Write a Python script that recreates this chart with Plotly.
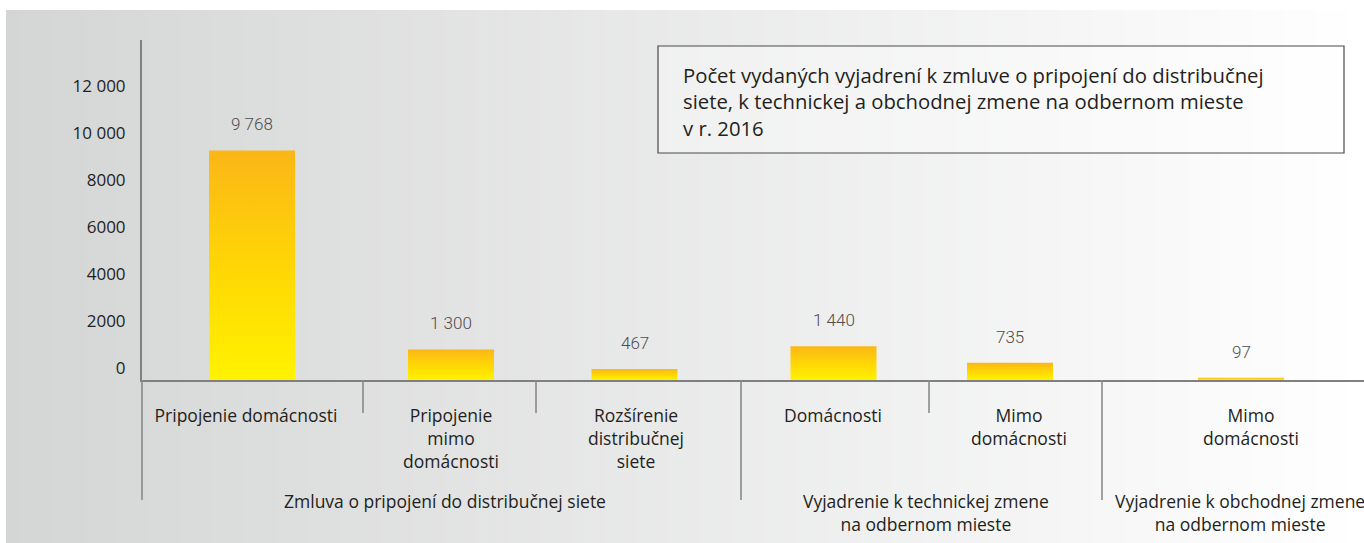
import plotly.graph_objects as go

# ---------------- data ----------------
categories = ["Pripojenie domácnosti", "Pripojenie<br>mimo<br>domácnosti",
              "Rozšírenie<br>distribučnej<br>siete", "Domácnosti",
              "Mimo<br>domácnosti", "Mimo<br>domácnosti"]
values = [9768, 1300, 467, 1440, 735, 97]
value_labels = ["9 768", "1 300", "467", "1 440", "735", "97"]
groups = ["Zmluva o pripojení do distribučnej siete",
          "Vyjadrenie k technickej zmene<br>na odbernom mieste",
          "Vyjadrenie k obchodnej zmene<br>na odbernom mieste"]
group_sizes = [3, 2, 1]
y_tick_vals = [0, 2000, 4000, 6000, 8000, 10000, 12000]
y_tick_text = ["0", "2000", "4000", "6000", "8000", "10 000", "12 000"]
title_text = ("Počet vydaných vyjadrení k zmluve o pripojení do distribučnej<br>"
              "siete, k technickej a obchodnej zmene na odbernom mieste<br>"
              "v r. 2016")

# ---------------- layout (pixel positions) ----------------
W, H = 1364, 543
L, R, T, B = 142, 1364, 40, 380          # plot area in px
cell_edges = [142, 363, 536, 741, 929, 1102, 1364]
bar_centers = [252, 451, 634.5, 833.5, 1010, 1241]
label_centers = [246, 451, 636, 833, 1019, 1251]
group_centers = [445, 926, 1240]
bar_w = 86
px_per_unit = 23.5 / 1000
y_max = (B - T) / px_per_unit

FONT = "Open Sans"
VFONT = "Roboto"
TXT = "#231f20"

def pxx(px):
    return (px - L) / (R - L)

def pxy(py):
    return (B - py) / (B - T)

fig = go.Figure()

# bars with vertical gradient
for c, v in zip(bar_centers, values):
    fig.add_trace(go.Scatter(
        x=[c - bar_w / 2, c - bar_w / 2, c + bar_w / 2, c + bar_w / 2],
        y=[0, v, v, 0], fill="toself", mode="none",
        fillgradient=dict(type="vertical",
                          colorscale=[[0, "#fff200"], [0.5, "#ffd605"], [1, "#fbb617"]]),
        showlegend=False, hoverinfo="skip"))

shapes = []
# background gradient panel
x_start, x_end = 6, 1364
n = 170
step = (x_end - x_start) / n
for i in range(n):
    t = (i + 0.5) / n
    c0, c1 = (212, 213, 213), (255, 255, 255)
    col = tuple(round(a + (b - a) * t) for a, b in zip(c0, c1))
    shapes.append(dict(type="rect", xref="paper", yref="paper",
                       x0=pxx(x_start + i * step), x1=pxx(x_start + (i + 1) * step + 0.6),
                       y0=pxy(H), y1=pxy(10), line=dict(width=0),
                       fillcolor="rgb(%d,%d,%d)" % col, layer="below"))

# dividers below axis
long_edges = {142, 741, 1102}
for e in cell_edges[:-1]:
    bottom = 500 if e in long_edges else 413
    shapes.append(dict(type="line", xref="paper", yref="paper",
                       x0=pxx(e), x1=pxx(e), y0=pxy(B), y1=pxy(bottom),
                       line=dict(color="#8a8a8a", width=1.6)))

# title box
shapes.append(dict(type="rect", xref="paper", yref="paper",
                   x0=pxx(658), x1=pxx(1344), y0=pxy(153), y1=pxy(46),
                   line=dict(color="#4a4a4a", width=1.2),
                   fillcolor="rgba(255,255,255,0.35)"))

annotations = []
for c, v, lab in zip(bar_centers, values, value_labels):
    annotations.append(dict(x=c, y=v, xref="x", yref="y", text=lab, showarrow=False,
                            yshift=26, yanchor="middle",
                            font=dict(family=VFONT, size=17, color="#4d4d4d", weight=300)))

for gc, g in zip(group_centers, groups):
    annotations.append(dict(x=gc, y=pxy(487), xref="x", yref="paper", text=g,
                            showarrow=False, yanchor="top", xanchor="center",
                            font=dict(family=FONT, size=17.5, color=TXT, weight=500)))

annotations.append(dict(x=pxx(681), y=pxy(59), xref="paper", yref="paper",
                        text=title_text, showarrow=False, xanchor="left", yanchor="top",
                        align="left", font=dict(family=FONT, size=20.3, color=TXT, weight=500)))

fig.update_layout(
    width=W, height=H,
    margin=dict(l=L, r=W - R, t=T, b=H - B, pad=0),
    paper_bgcolor="white", plot_bgcolor="rgba(0,0,0,0)",
    shapes=shapes, annotations=annotations, showlegend=False,
    xaxis=dict(range=[L, R], showgrid=False, zeroline=False, showline=True,
               linecolor="#808080", linewidth=2, ticks="",
               tickvals=label_centers, ticktext=categories,
               tickfont=dict(family=FONT, size=17.5, color=TXT, weight=500),
               ticklabelstandoff=19, fixedrange=True),
    yaxis=dict(range=[0, y_max], showgrid=False, zeroline=False, showline=True,
               linecolor="#808080", linewidth=2, ticks="",
               tickvals=y_tick_vals, ticktext=y_tick_text,
               tickfont=dict(family=FONT, size=17, color=TXT, weight=500),
               ticklabelstandoff=11, ticklabelshift=-12, fixedrange=True),
)

fig.write_html("out.html")
